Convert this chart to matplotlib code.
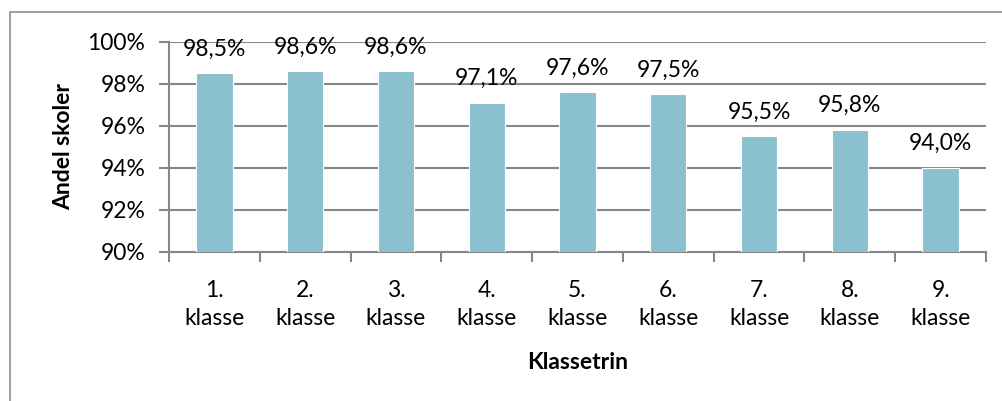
import matplotlib
matplotlib.use('Agg')
import matplotlib.pyplot as plt
from matplotlib.patches import Rectangle
from matplotlib.ticker import FuncFormatter

plt.rcParams['font.family'] = ['Lato', 'DejaVu Sans']

categories = ['1.\nklasse', '2.\nklasse', '3.\nklasse', '4.\nklasse', '5.\nklasse',
              '6.\nklasse', '7.\nklasse', '8.\nklasse', '9.\nklasse']
values = [98.5, 98.6, 98.6, 97.1, 97.6, 97.5, 95.5, 95.8, 94.0]
yticks = [90, 92, 94, 96, 98, 100]

bar_color = '#8BC1CE'
grid_color = '#878787'
fs = 16.5

fig = plt.figure(figsize=(10.02, 4.01), dpi=100)
# chart border
fig.patches.append(Rectangle((10/1002, -0.1), 1.2, 1 - 12/401 + 0.1,
                             transform=fig.transFigure, fill=False,
                             edgecolor='#8c8c8c', linewidth=1.2))

ax = fig.add_axes([169/1002, 1 - 252/401, (986 - 169)/1002, (252 - 42)/401])
x = list(range(len(values)))
ax.bar(x, values, width=0.4, color=bar_color, edgecolor='white', linewidth=0.8, zorder=3)

ax.set_ylim(90, 100)
ax.set_xlim(-0.5, len(values) - 0.5)
ax.set_yticks(yticks)
ax.yaxis.set_major_formatter(FuncFormatter(lambda v, p: '%d%%' % v))
ax.yaxis.grid(True, color=grid_color, linewidth=1.5, zorder=0)
ax.set_axisbelow(True)

ax.set_xticks(x)
ax.set_xticklabels(categories, fontsize=fs, linespacing=1.45)
ax.set_xticks([i - 0.5 for i in range(len(values) + 1)], minor=True)
ax.tick_params(axis='x', which='major', length=0, pad=20)
ax.tick_params(axis='x', which='minor', length=7, width=1.5, color=grid_color)
ax.tick_params(axis='y', length=7, width=1.5, color=grid_color, labelsize=fs, pad=10)

for s in ['top', 'right']:
    ax.spines[s].set_visible(False)
ax.spines['left'].set_color(grid_color)
ax.spines['left'].set_linewidth(1.5)
ax.spines['bottom'].set_color(grid_color)
ax.spines['bottom'].set_linewidth(1.5)

for xi, v in zip(x, values):
    ax.annotate(('%.1f%%' % v).replace('.', ','), (xi, v), xytext=(0, 10),
                textcoords='offset points', ha='center', va='bottom', fontsize=fs,
                annotation_clip=False)

ax.set_xlabel('Klassetrin', fontsize=fs, fontweight='bold', labelpad=16)
ax.set_ylabel('Andel skoler', fontsize=fs, fontweight='bold', labelpad=10)

fig.savefig('out.png', dpi=100)
